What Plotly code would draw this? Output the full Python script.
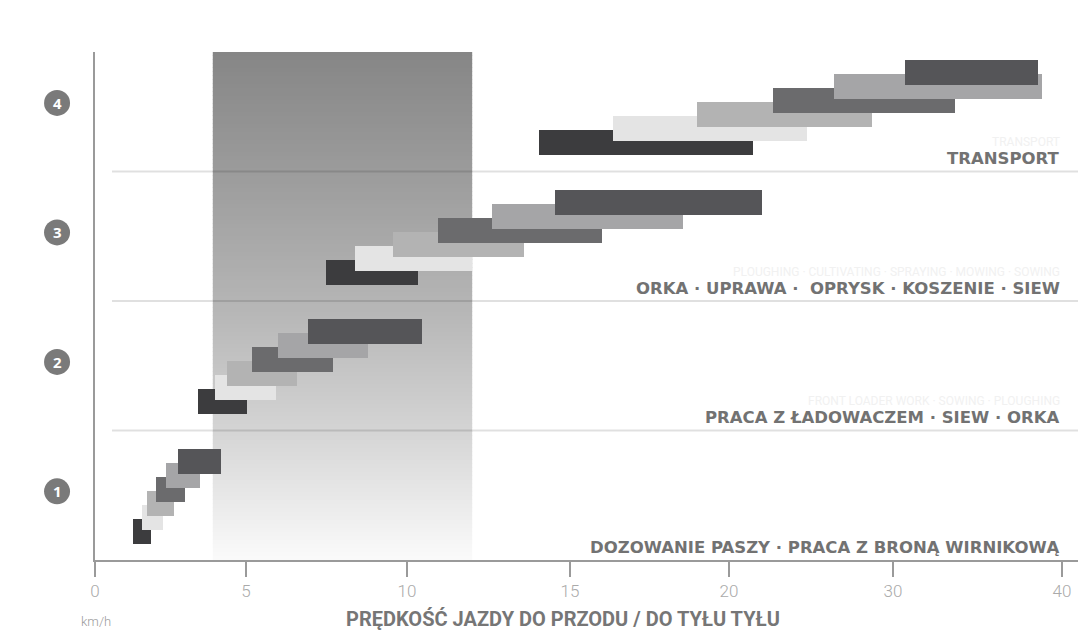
import numpy as np
import plotly.graph_objects as go

# ---------------- data ----------------
# x axis: speed ticks (km/h) and their labels
TICK_KMH = [0, 5, 10, 15, 20, 30, 40]
TICK_LABELS = ["0", "5", "10", "15", "20", "30", "40"]

# work-range groups (1 = bottom ... 4 = top)
GROUPS = [1, 2, 3, 4]
GROUP_LABELS = [
    "DOZOWANIE PASZY · PRACA Z BRONĄ WIRNIKOWĄ",
    "PRACA Z ŁADOWACZEM · SIEW · ORKA",
    "ORKA · UPRAWA ·  OPRYSK · KOSZENIE · SIEW",
    "TRANSPORT",
]
GHOST_LABELS = [
    "",
    "FRONT LOADER WORK · SOWING · PLOUGHING",
    "PLOUGHING · CULTIVATING · SPRAYING · MOWING · SOWING",
    "TRANSPORT",
]

# speed ranges (km/h) of the six gears inside each group: start / end
GEAR_START = [
    [1.26, 1.56, 1.72, 2.02, 2.35, 2.75],      # group 1
    [3.41, 3.97, 4.37, 5.20, 6.00, 6.93],      # group 2
    [7.48, 8.39, 9.57, 10.95, 12.60, 14.55],   # group 3
    [14.05, 16.35, 19.00, 22.70, 26.40, 30.70],  # group 4
]
GEAR_END = [
    [1.85, 2.25, 2.62, 2.98, 3.48, 4.17],
    [5.03, 5.93, 6.58, 7.70, 8.80, 10.46],
    [10.34, 12.00, 13.60, 16.00, 18.55, 22.00],
    [21.46, 24.76, 28.70, 33.67, 38.80, 38.60],
]

# highlighted speed band (km/h)
BAND_KMH = [3.9, 12.0]

# ---------------- styling / scale ----------------
AXIS_POS = [0, 151, 312, 475, 634, 798, 967]   # screen position of each tick
X_RANGE = [0, 991]
Y_TOP = 3.923
GROUP_BASE = 0.222
SLOT_STEP = 0.108
BAR_W = 0.193
SLOT_COLORS = ["#3c3c3e", "#e4e4e4", "#b3b3b3", "#6b6b6d", "#a5a5a7", "#555558"]
TEXT_GRAY = "#727272"
# vertical gradient of the band: (fraction of height from bottom, grey level)
BAND_STOPS_F = [0.0, 0.256, 0.512, 0.768, 1.0]
BAND_STOPS_G = [251, 212, 180, 155, 134]
N_STRIPS = 127
CIRCLE_X = -0.0383   # paper x of the circled numbers

# the page body has an 8px margin, so the figure is sized to fit the window
FIG_W, FIG_H = 1078, 625


def xpos(v):
    return np.interp(v, TICK_KMH, AXIS_POS)


fig = go.Figure()
shapes = []
annotations = []

# gradient band as thin strips below the bars
bx0, bx1 = float(xpos(BAND_KMH[0])), float(xpos(BAND_KMH[1]))
edges = np.linspace(0, Y_TOP, N_STRIPS + 1)
for i in range(N_STRIPS):
    f = (i + 0.5) / N_STRIPS
    gv = int(round(np.interp(f, BAND_STOPS_F, BAND_STOPS_G)))
    shapes.append(dict(type="rect", xref="x", yref="y", x0=bx0, x1=bx1,
                       y0=float(edges[i]), y1=float(edges[i + 1]) + 0.004,
                       fillcolor=f"rgb({gv},{gv},{gv})",
                       line=dict(width=0), layer="below"))

# separator lines
for g in GROUPS[1:]:
    shapes.append(dict(type="line", xref="x", yref="y", x0=17, x1=985,
                       y0=g - 1, y1=g - 1,
                       line=dict(color="rgba(0,0,0,0.12)", width=2),
                       layer="below"))

# gear bars, one trace per slot so that higher slots are drawn on top
for s in range(6):
    ys, bases, lens = [], [], []
    for gi, g in enumerate(GROUPS):
        a = xpos(GEAR_START[gi][s])
        b = xpos(GEAR_END[gi][s])
        ys.append((g - 1) + GROUP_BASE + s * SLOT_STEP)
        bases.append(a)
        lens.append(b - a)
    fig.add_trace(go.Bar(
        orientation="h", y=ys, x=lens, base=bases, width=BAR_W,
        marker=dict(color=SLOT_COLORS[s], line=dict(width=0)),
        hoverinfo="skip", showlegend=False))

# circled group numbers
for g in GROUPS:
    yc = g - 0.47
    shapes.append(dict(type="circle", xref="paper", yref="y",
                       xsizemode="pixel", ysizemode="pixel",
                       xanchor=CIRCLE_X, yanchor=yc,
                       x0=-13, x1=13, y0=-13, y1=13,
                       fillcolor="#7a7a7a", line=dict(width=0)))
    annotations.append(dict(
        x=CIRCLE_X, y=yc, xref="paper", yref="y", xanchor="center",
        yanchor="middle", text=str(g), showarrow=False,
        font=dict(family="Open Sans", size=15, color="white",
                  weight="bold")))

x40 = float(xpos(40))
for gi, g in enumerate(GROUPS):
    if GHOST_LABELS[gi]:
        annotations.append(dict(
            x=x40, y=(g - 1) + 0.225, xref="x", yref="y", xanchor="right",
            yanchor="middle", text=GHOST_LABELS[gi], showarrow=False,
            font=dict(family="Roboto", size=12, color="#f1f1f1")))
    annotations.append(dict(
        x=x40, y=(g - 1) + 0.10, xref="x", yref="y", xanchor="right",
        yanchor="middle", text=GROUP_LABELS[gi], showarrow=False,
        font=dict(family="DejaVu Sans", size=16.5, color=TEXT_GRAY,
                  weight="bold")))

annotations.append(dict(
    x=0.472, y=-0.116, xref="paper", yref="paper", xanchor="center",
    yanchor="middle", text="PRĘDKOŚĆ JAZDY DO PRZODU / DO TYŁU TYŁU",
    showarrow=False,
    font=dict(family="Roboto", size=20, color="#767676", weight="bold")))
annotations.append(dict(
    x=-0.016, y=-0.121, xref="paper", yref="paper", xanchor="left",
    yanchor="middle", text="km/h", showarrow=False,
    font=dict(family="Roboto", size=13, color="#9a9a9a", weight=300)))

fig.update_layout(
    width=FIG_W, height=FIG_H,
    margin=dict(l=87, r=0, t=44, b=73, autoexpand=False),
    plot_bgcolor="white", paper_bgcolor="white",
    barmode="overlay", bargap=0,
    showlegend=False,
    shapes=shapes, annotations=annotations,
    xaxis=dict(range=X_RANGE, tickvals=AXIS_POS, ticktext=TICK_LABELS,
               showgrid=False, zeroline=False, showline=True,
               linecolor="#9a9a9a", linewidth=2, ticks="outside",
               ticklen=15, tickwidth=2, tickcolor="#9a9a9a",
               tickfont=dict(family="Roboto", size=17, color="#aaaaaa",
                             weight=300),
               automargin=False, fixedrange=True),
    yaxis=dict(range=[0, Y_TOP], showticklabels=False, showgrid=False,
               zeroline=False, showline=True, linecolor="#9a9a9a",
               linewidth=2, ticks="", automargin=False, fixedrange=True),
)

fig.write_html("out.html")
